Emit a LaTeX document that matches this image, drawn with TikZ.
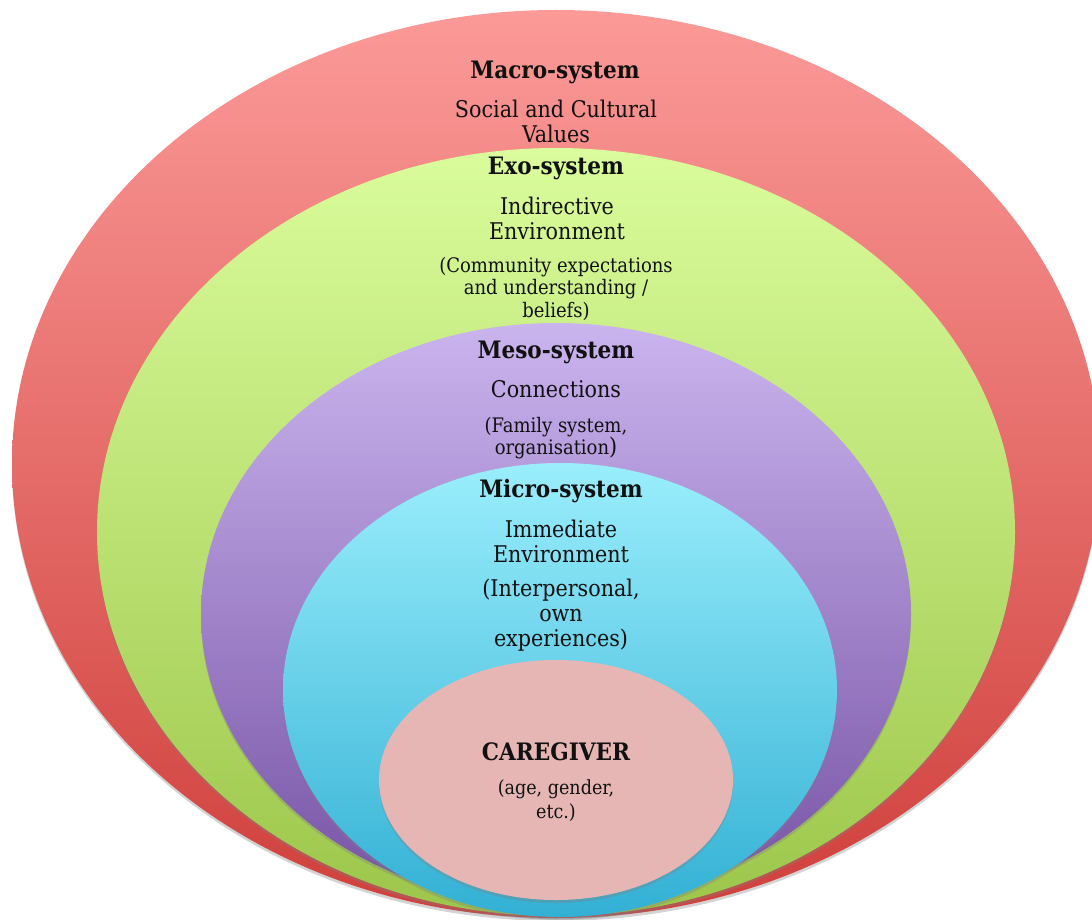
\documentclass[tikz,border=0pt]{standalone}
\usepackage{fontspec}
\setmainfont{DejaVu Serif Condensed}
\usetikzlibrary{shadows}
\definecolor{redtop}{HTML}{FB9A98}
\definecolor{redbot}{HTML}{CF3F3B}
\definecolor{greentop}{HTML}{DAFC9C}
\definecolor{greenbot}{HTML}{9CC64A}
\definecolor{purptop}{HTML}{CAB4EE}
\definecolor{purpbot}{HTML}{7652A4}
\definecolor{cyantop}{HTML}{9AEEFC}
\definecolor{cyanbot}{HTML}{32B0D4}
\definecolor{pinkfill}{HTML}{E6B6B5}
\definecolor{txt}{HTML}{111111}
\begin{document}
\begin{tikzpicture}[x=1pt,y=-1pt,
  layer/.style={drop shadow={opacity=0.35,shadow xshift=0pt,shadow yshift=-3pt}},
  title/.style={text=txt,font=\fontsize{24}{25}\selectfont\bfseries,inner sep=0pt},
  body/.style={text=txt,font=\fontsize{23}{25}\selectfont,align=center,inner sep=0pt},
  small/.style={text=txt,font=\fontsize{20}{22.5}\selectfont,align=center,inner sep=0pt},
  tiny/.style={text=txt,font=\fontsize{19.5}{24}\selectfont,align=center,inner sep=0pt}]
\useasboundingbox (0,0) rectangle (1092,920);
\begin{scope}
\clip (0,0) rectangle (1092,920);
\path[layer,top color=redtop,bottom color=redbot] (556,464) ellipse [x radius=544pt,y radius=454pt];
\path[layer,top color=greentop,bottom color=greenbot] (556,532) ellipse [x radius=459pt,y radius=384pt];
\path[layer,top color=purptop,bottom color=purpbot] (556,614) ellipse [x radius=355pt,y radius=291pt];
\path[layer,top color=cyantop,bottom color=cyanbot] (560,690) ellipse [x radius=277pt,y radius=227pt];
\path[layer,fill=pinkfill] (556,780) ellipse [x radius=177pt,y radius=120pt];
\end{scope}
% Macro-system
\node[title] (macroT) at (555,72) {Macro-system};
\node[body] (macroD) at (556,121.5) {Social and Cultural\\Values};
% Exo-system
\node[title] (exoT) at (556,168) {Exo-system};
\node[body] (exoD) at (557,218) {Indirective\\Environment};
\node[small] (exoP) at (556,288.5) {(Community expectations\\and understanding /\\beliefs)};
% Meso-system
\node[title] (mesoT) at (556,352) {Meso-system};
\node[body] (mesoD) at (556,389) {Connections};
\node[small] (mesoP) at (556,438) {(Family system,\\organisation{\fontsize{23}{25}\selectfont)}};
% Micro-system
\node[title] (microT) at (561,491) {Micro-system};
\node[body] (microD) at (561,541.5) {Immediate\\Environment};
\node[body] (microP) at (561,615) {(Interpersonal,\\own\\experiences)};
% Caregiver
\node[title] (careT) at (556,752) {CAREGIVER};
\node[tiny] (careP) at (556,801) {(age, gender,\\etc.)};
\end{tikzpicture}
\end{document}
